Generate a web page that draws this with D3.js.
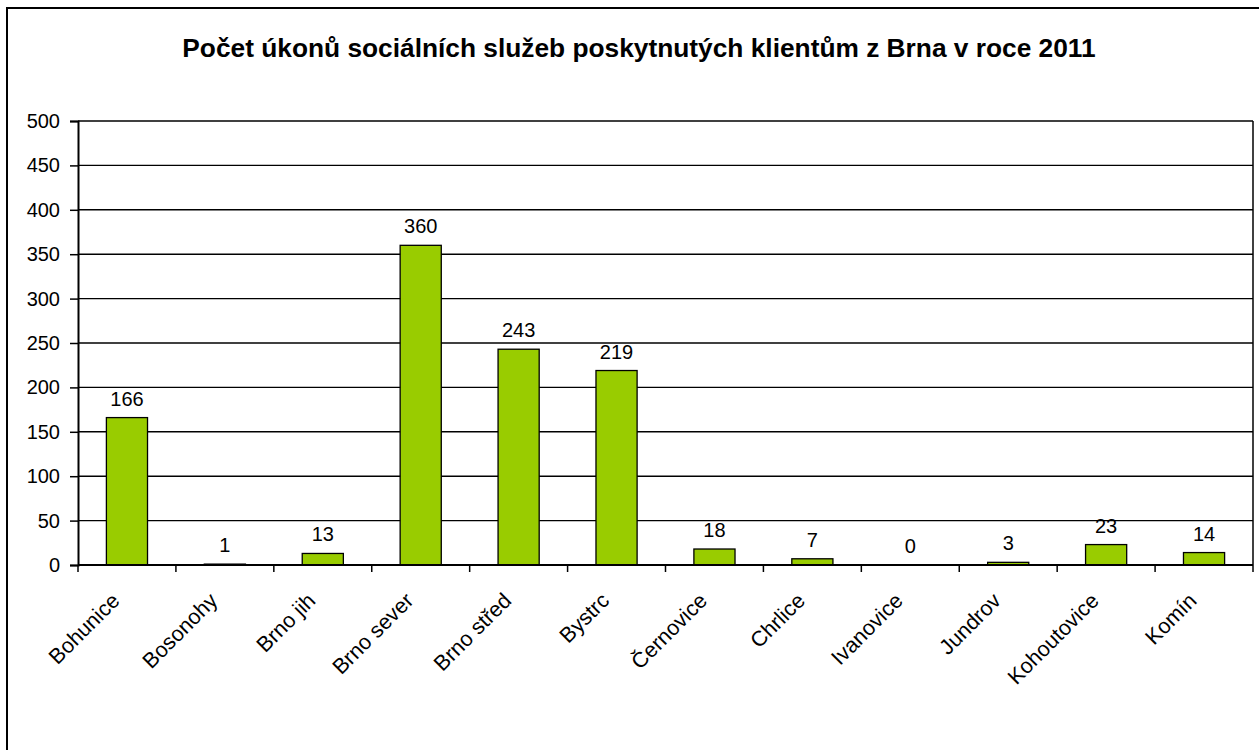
<!DOCTYPE html>
<html><head><meta charset="utf-8">
<script src="https://cdn.jsdelivr.net/npm/d3@7"></script>
<style>body{margin:0;background:#fff;} svg{display:block;font-family:"Liberation Sans",Arial,sans-serif;}</style>
</head><body>
<svg id="c" width="1259" height="750"></svg>
<script>
const categories = ["Bohunice","Bosonohy","Brno jih","Brno sever","Brno střed","Bystrc","Černovice","Chrlice","Ivanovice","Jundrov","Kohoutovice","Komín"];
const values = [166,1,13,360,243,219,18,7,0,3,23,14];
const yTicks = [0,50,100,150,200,250,300,350,400,450,500];
const title = "Počet úkonů sociálních služeb poskytnutých klientům z Brna v roce 2011";

const svg = d3.select("#c");
svg.append("rect").attr("x",7).attr("y",8).attr("width",1300).attr("height",800)
  .attr("fill","#fff").attr("stroke","#000").attr("stroke-width",2);

const L=78, R=1253, T=121, B=565;
const x = d3.scaleBand().domain(categories).range([L,R]).paddingInner(0.58).paddingOuter(0.29);
const y = d3.scaleLinear().domain([0,500]).range([B,T]);

svg.append("text").attr("x",639).attr("y",57).attr("text-anchor","middle")
  .attr("font-size",26.3).attr("font-weight","bold").text(title);

// gridlines
svg.append("g").selectAll("line").data(yTicks.filter(d=>d>0)).join("line")
  .attr("x1",L).attr("x2",R).attr("y1",d=>y(d)).attr("y2",d=>y(d))
  .attr("stroke","#000").attr("stroke-width",1.4);
svg.append("line").attr("x1",R).attr("x2",R).attr("y1",T).attr("y2",B).attr("stroke","#000").attr("stroke-width",1.5);

// bars
svg.append("g").selectAll("rect").data(values).join("rect")
  .attr("x",(d,i)=>x(categories[i])).attr("width",x.bandwidth())
  .attr("y",d=>y(d)).attr("height",d=>B-y(d))
  .attr("fill","#99cc00").attr("stroke","#000").attr("stroke-width",1.3);

svg.append("g").selectAll("text").data(values).join("text")
  .attr("x",(d,i)=>x(categories[i])+x.bandwidth()/2).attr("y",d=>y(d)-12)
  .attr("text-anchor","middle").attr("font-size",20).text(d=>d);

// y axis
const ya = svg.append("g").attr("transform",`translate(${L},0)`)
  .call(d3.axisLeft(y).tickValues(yTicks).tickSize(8).tickPadding(10));
ya.select(".domain").attr("stroke","#000").attr("stroke-width",2);
ya.selectAll(".tick line").attr("stroke","#000").attr("stroke-width",1.5);
ya.selectAll(".tick text").attr("font-size",20).attr("fill","#000").attr("font-family","Liberation Sans, Arial, sans-serif");

// x axis
const xPos = d3.scalePoint().domain(d3.range(categories.length+1)).range([L,R]);
const xa = svg.append("g").attr("transform",`translate(0,${B})`);
xa.append("line").attr("x1",L).attr("x2",R).attr("stroke","#000").attr("stroke-width",2);
xa.selectAll("line.t").data(d3.range(categories.length+1)).join("line").attr("class","t")
  .attr("x1",d=>xPos(d)).attr("x2",d=>xPos(d)).attr("y1",0).attr("y2",7)
  .attr("stroke","#000").attr("stroke-width",1.5);
xa.selectAll("text").data(categories).join("text")
  .attr("transform",d=>`translate(${x(d)+x.bandwidth()/2-6},${37}) rotate(-45)`)
  .attr("text-anchor","end").attr("font-size",21.5).text(d=>d);
</script>
</body></html>
